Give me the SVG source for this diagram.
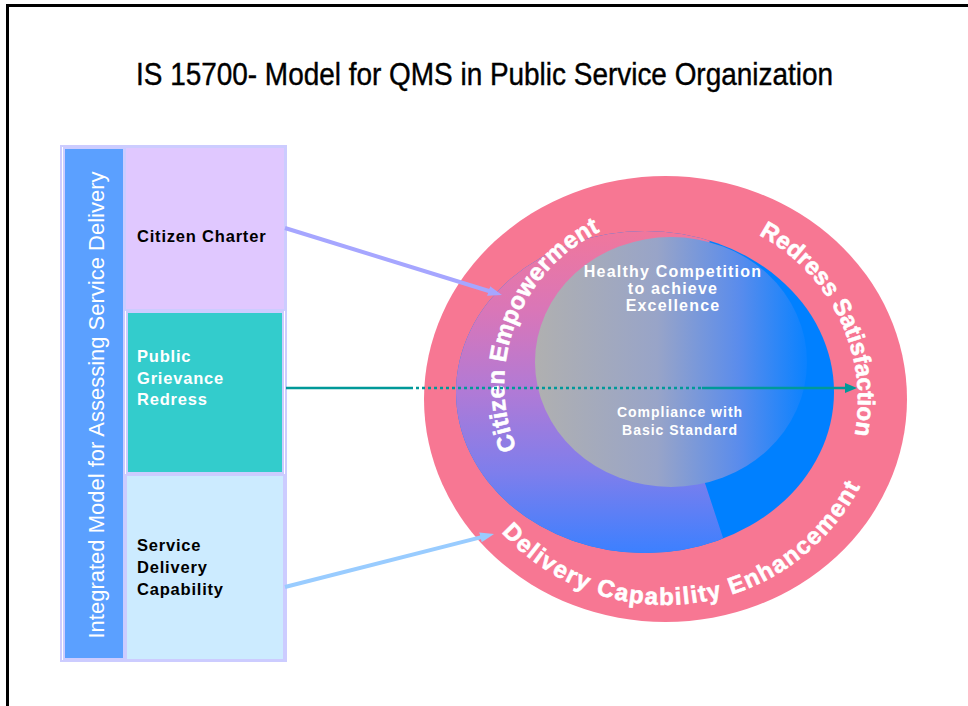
<svg xmlns="http://www.w3.org/2000/svg" width="968" height="706" viewBox="0 0 968 706">
<style>
.frame{fill:none;stroke:#000;stroke-width:3}
.box{stroke:#CCCCFF;stroke-width:2}
.lbl{font-family:"Liberation Sans",Arial,sans-serif;font-weight:bold;font-size:16.5px;letter-spacing:0.8px}
.ctr{font-family:"Liberation Sans",Arial,sans-serif;font-weight:bold;fill:#fff;text-anchor:middle}
.arc{font-family:"Liberation Sans",Arial,sans-serif;font-weight:bold;font-size:24px;fill:#fff;stroke:#fff;stroke-width:0.6px}
</style>
<defs>
<linearGradient id="ringGrad" gradientUnits="userSpaceOnUse" x1="0" y1="231" x2="0" y2="553">
<stop offset="0" stop-color="#F0779C"/>
<stop offset="0.25" stop-color="#D976B8"/>
<stop offset="0.5" stop-color="#B07AD6"/>
<stop offset="0.75" stop-color="#7E7EEC"/>
<stop offset="1" stop-color="#3C80FF"/>
</linearGradient>
<linearGradient id="innerGrad" gradientUnits="userSpaceOnUse" x1="535" y1="0" x2="807" y2="0">
<stop offset="0" stop-color="#B0B0B0"/>
<stop offset="0.45" stop-color="#98A4C8"/>
<stop offset="0.75" stop-color="#5A8CEC"/>
<stop offset="1" stop-color="#0A82FF"/>
</linearGradient>
<clipPath id="wedgeClip">
<polygon points="671,380 735,150 400,150 400,650 760,650"/>
</clipPath>
<marker id="headLav" markerUnits="userSpaceOnUse" markerWidth="14" markerHeight="10" refX="2" refY="5" orient="auto">
<path d="M0,0 L14,5 L0,10 z" fill="#A6A6FF"/>
</marker>
<marker id="headTeal" markerUnits="userSpaceOnUse" markerWidth="12" markerHeight="10" refX="2" refY="5" orient="auto">
<path d="M0,0 L12,5 L0,10 z" fill="#009999"/>
</marker>
<marker id="headBlue" markerUnits="userSpaceOnUse" markerWidth="14" markerHeight="10" refX="2" refY="5" orient="auto">
<path d="M0,0 L14,5 L0,10 z" fill="#99CCFF"/>
</marker>
<path id="arcCitizen" d="M 516.6 448.9 A 171 171 0 0 1 675 214"/>
<path id="arcRedress" d="M 758.8 234.9 A 187 187 0 0 1 851.6 448.4"/>
<path id="arcDelivery" d="M 501.5 532.2 A 220 220 0 0 0 871.7 460.2"/>
</defs>

<rect class="frame" x="7.5" y="5.5" width="980" height="720"/>

<g id="title">
<text x="136" y="85" font-family="Liberation Sans, Arial, sans-serif" font-size="31" stroke="#000" stroke-width="0.4" textLength="697" lengthAdjust="spacingAndGlyphs">IS 15700- Model for QMS in Public Service Organization</text>
</g>

<g id="panel-integrated-model">
<rect x="61" y="146" width="225" height="515" fill="none" stroke="#CCCCFF" stroke-width="2"/>
<rect class="box" x="64" y="148" width="60" height="511" fill="#5BA0FF"/>
<text transform="translate(104,405) rotate(-90)" text-anchor="middle" font-family="Liberation Sans, Arial, sans-serif" font-size="22" fill="#fff">Integrated Model for Assessing Service Delivery</text>
</g>

<g id="node-citizen-charter">
<rect class="box" x="125" y="147" width="160" height="163" fill="#E0C8FF"/>
<text class="lbl" x="137" y="242" fill="#000">Citizen Charter</text>
</g>

<g id="node-public-grievance">
<rect class="box" x="127" y="312" width="156" height="161" fill="#33CCCC"/>
<text class="lbl" x="137" y="362" fill="#fff">Public</text>
<text class="lbl" x="137" y="384" fill="#fff">Grievance</text>
<text class="lbl" x="137" y="405" fill="#fff">Redress</text>
</g>

<g id="node-service-delivery">
<rect class="box" x="126" y="475" width="158" height="185" fill="#CCEBFF"/>
<text class="lbl" x="137" y="551" fill="#000">Service</text>
<text class="lbl" x="137" y="573" fill="#000">Delivery</text>
<text class="lbl" x="137" y="595" fill="#000">Capability</text>
</g>

<g id="node-circle-model">
<ellipse cx="665.5" cy="399" rx="241.5" ry="223" fill="#F77793"/>
<ellipse cx="645" cy="392" rx="189" ry="161" fill="#0080FF"/>
<ellipse cx="645" cy="392" rx="189" ry="161" fill="url(#ringGrad)" clip-path="url(#wedgeClip)"/>
<ellipse cx="671" cy="362" rx="136" ry="125" fill="url(#innerGrad)"/>
<text class="ctr" font-size="16" letter-spacing="1.2" x="673" y="277">Healthy Competition</text>
<text class="ctr" font-size="16" letter-spacing="1.2" x="673" y="294">to achieve</text>
<text class="ctr" font-size="16" letter-spacing="1.2" x="673" y="311">Excellence</text>
<text class="ctr" font-size="14" letter-spacing="1" x="680" y="417">Compliance with</text>
<text class="ctr" font-size="14" letter-spacing="1" x="680" y="435">Basic Standard</text>
<text class="arc" letter-spacing="0.3"><textPath href="#arcCitizen">Citizen Empowerment</textPath></text>
<text class="arc"><textPath href="#arcRedress">Redress Satisfaction</textPath></text>
<text class="arc" letter-spacing="1.5"><textPath href="#arcDelivery">Delivery Capability Enhancement</textPath></text>
</g>

<g id="connectors">
<line x1="285" y1="228" x2="490.5" y2="291.5" stroke="#A6A6FF" stroke-width="4" marker-end="url(#headLav)"/>
<line x1="286" y1="388" x2="410" y2="388" stroke="#009999" stroke-width="2.5"/>
<line x1="410" y1="388" x2="702" y2="388" stroke="#009999" stroke-width="2.5" stroke-dasharray="3 3"/>
<line x1="702" y1="388" x2="847" y2="388" stroke="#009999" stroke-width="2.5" marker-end="url(#headTeal)"/>
<line x1="285" y1="587" x2="482.4" y2="536.9" stroke="#99CCFF" stroke-width="4" marker-end="url(#headBlue)"/>
</g>
</svg>
